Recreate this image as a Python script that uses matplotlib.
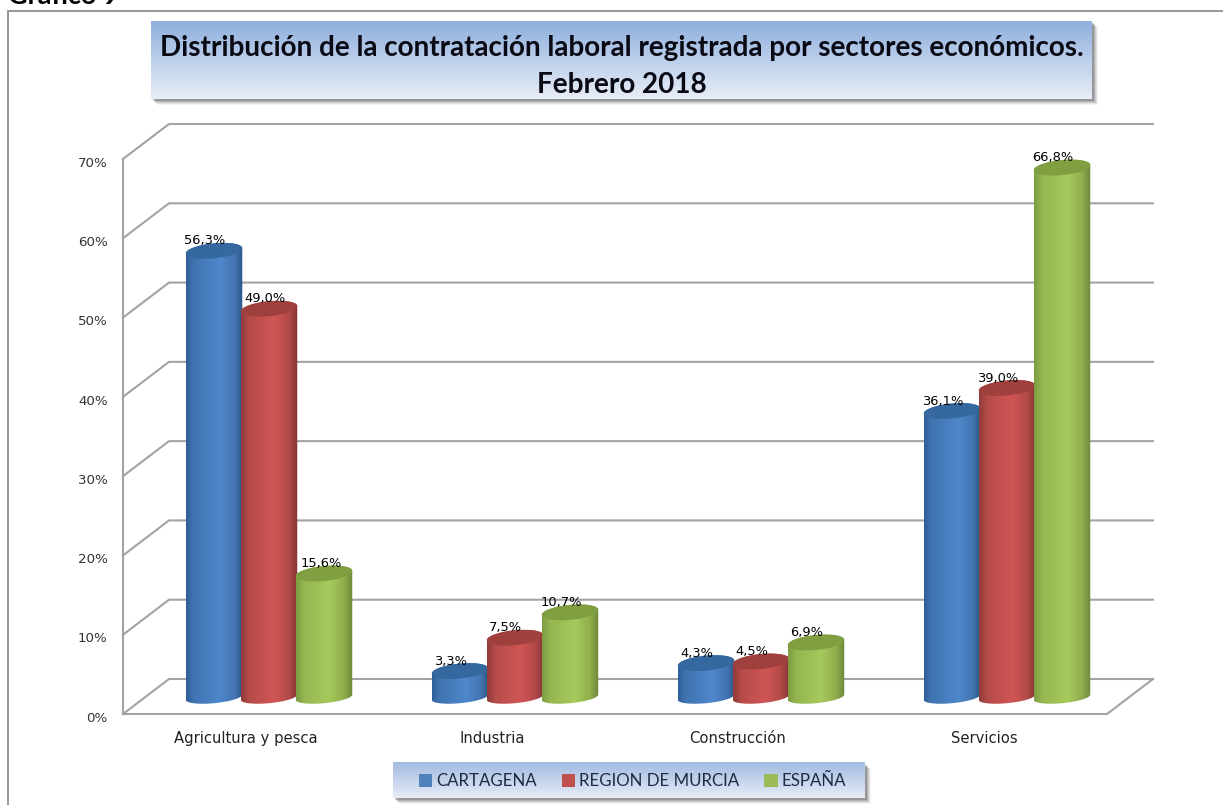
import numpy as np
import matplotlib
matplotlib.use("Agg")
import matplotlib.pyplot as plt
from matplotlib.patches import Rectangle, PathPatch, Patch
from matplotlib.path import Path
from matplotlib.transforms import ScaledTranslation

# ---- data ----
categories = ["Agricultura y pesca", "Industria", "Construcción", "Servicios"]
series_names = ["CARTAGENA", "REGION DE MURCIA", "ESPAÑA"]
cartagena = [56.3, 3.3, 4.3, 36.1]
murcia = [49.0, 7.5, 4.5, 39.0]
espana = [15.6, 10.7, 6.9, 66.8]
y_ticks = [0, 10, 20, 30, 40, 50, 60, 70]
y_tick_labels = ["0%", "10%", "20%", "30%", "40%", "50%", "60%", "70%"]
title_lines = ["Distribución de la contratación laboral registrada por sectores económicos.",
               "Febrero 2018"]
heading = "Gráfico 9"

# ---- style ----
W, H = 1223, 805
GRID = "#a3a3a3"
edge_colors = {
    0: [(0.00, "#2f5f98"), (0.12, "#3f73b0"), (0.60, "#4f88cc"), (0.86, "#4274b0"), (1.00, "#2b5787")],
    1: [(0.00, "#8f3b39"), (0.14, "#b54b49"), (0.58, "#d05656"), (0.84, "#b34a48"), (1.00, "#853735")],
    2: [(0.00, "#7d9c42"), (0.14, "#95b650"), (0.58, "#a6ca5c"), (0.84, "#90af4d"), (1.00, "#6d883b")],
}
top_colors = ["#35689f", "#a0403e", "#7f9f41"]
legend_colors = ["#4f81bd", "#c0504d", "#9bbb59"]
label_nudge_px = {(0, 1): 5, (0, 2): 6}


def rgb(h):
    return np.array(matplotlib.colors.to_rgb(h))


def gradient(stops, n=128):
    t = np.linspace(0, 1, n)
    pos = [s[0] for s in stops]
    cols = np.array([rgb(s[1]) for s in stops])
    return np.stack([np.interp(t, pos, cols[:, k]) for k in range(3)], axis=1)


fig = plt.figure(figsize=(W / 100, H / 100), dpi=100, facecolor="white")

# background layer in pixel coordinates: frame, title box, legend box
bg = fig.add_axes([0, 0, 1, 1], zorder=0)
bg.set_xlim(0, W)
bg.set_ylim(H, 0)
bg.axis("off")
bg.plot([8, 8, W], [H, 11.5, 11.5], color="#858585", lw=1.2, solid_joinstyle="miter")
bg.text(8, 3.5, heading, fontsize=19.5, fontweight="bold", family="Lato", color="black", va="baseline", ha="left")


def gradient_box(x0, y0, x1, y1, top, mid, bottom):
    for i, a in zip([6, 5, 4, 3, 2], [0.06, 0.09, 0.13, 0.18, 0.25]):
        bg.add_patch(Rectangle((x0 + i, y0 + i), x1 - x0, y1 - y0, fc="#404040", ec="none", alpha=a))
    g = gradient([(0, top), (0.5, mid), (1, bottom)])[:, None, :]
    bg.imshow(g, extent=[x0, x1, y1, y0], aspect="auto", zorder=3)
    bg.set_xlim(0, W)
    bg.set_ylim(H, 0)


gradient_box(151, 21.5, 1092, 99, "#8fafdc", "#bccfeb", "#e8edf7")
gradient_box(393, 763, 865, 798, "#a3bbe2", "#c4d3ec", "#e8edf7")
bg.text(621.5, 48, title_lines[0], fontsize=20.1, fontweight="bold", family="Lato", color="#0a0a14",
        ha="center", va="center", zorder=5)
bg.text(621.5, 85, title_lines[1], fontsize=20.1, fontweight="bold", family="Lato", color="#0a0a14",
        ha="center", va="center", zorder=5)

# chart axes: front plane of the 3-D box
ax = fig.add_axes([123 / W, (H - 714) / H, 984 / W, 555 / H], zorder=1)
ax.patch.set_alpha(0)
ax.set_xlim(-0.5, 3.5)
ax.set_ylim(0, 70)
PX_X = 4 / 984          # data units per pixel, x
PX_Y = 70 / 555         # data units per pixel, y
DX, DY = 46 * PX_X, 35 * PX_Y

for s in ["top", "right", "bottom"]:
    ax.spines[s].set_visible(False)
ax.spines["left"].set_color(GRID)
ax.spines["left"].set_linewidth(1.5)
ax.set_yticks(y_ticks)
ax.set_yticklabels(y_tick_labels, fontsize=9.6, color="#333333", family="DejaVu Sans")
ax.set_xticks(range(len(categories)))
ax.set_xticklabels(categories, fontsize=10.6, color="#222222", family="DejaVu Sans")
ax.tick_params(axis="y", length=0, pad=11)
ax.tick_params(axis="x", length=0, pad=12.5)
for lbl in ax.get_yticklabels():
    lbl.set_transform(lbl.get_transform() + ScaledTranslation(0, -2 / 72, fig.dpi_scale_trans))

# depth grid
for v in y_ticks:
    ax.plot([-0.5, -0.5 + DX, 3.5 + DX], [v, v + DY, v + DY], color=GRID, lw=1.5, clip_on=False, zorder=1)
ax.plot([-0.5, 3.5, 3.5 + DX], [0, 0, DY], color=GRID, lw=1.5, clip_on=False, zorder=1)

# cylinders
STEP = 55 * PX_X
BAR_W = 56.5 * PX_X
BASE = 0.48 * DY
RY = 7.5 * PX_Y
TILT = 2.6 * PX_Y
theta = np.linspace(0, 2 * np.pi, 120)
z = 2


def ellipse(cx, cy):
    return (cx + BAR_W / 2 * np.cos(theta),
            cy + RY * np.sin(theta) + TILT * np.cos(theta))


all_series = [cartagena, murcia, espana]
for c in range(len(categories)):
    for s, values in enumerate(all_series):
        v = values[c]
        cx = c + (s - 1) * STEP + DX / 2
        top = BASE + v
        # body outline: lower half of the base ellipse up to the top ellipse
        low = np.linspace(np.pi, 2 * np.pi, 60)
        bx = cx + BAR_W / 2 * np.cos(low)
        by = BASE + RY * 0.8 * np.sin(low) + TILT * np.cos(low)
        hi = np.linspace(0, np.pi, 60)
        tx = cx + BAR_W / 2 * np.cos(hi)
        ty = top + RY * np.sin(hi) + TILT * np.cos(hi)
        verts = np.column_stack([np.r_[bx, tx], np.r_[by, ty]])
        body = PathPatch(Path(np.vstack([verts, verts[0]]), closed=True), fc="none", ec="none",
                         transform=ax.transData)
        ax.add_patch(body)
        img = gradient(edge_colors[s])[None, :, :]
        im = ax.imshow(img, extent=[cx - BAR_W / 2, cx + BAR_W / 2, by.min(), ty.max()],
                       aspect="auto", zorder=z, interpolation="bilinear")
        im.set_clip_path(body)
        ex, ey = ellipse(cx, top)
        ax.fill(ex, ey, color=top_colors[s], lw=0, zorder=z + 0.1)
        nudge = label_nudge_px.get((c, s), 0) * 0.72
        ax.annotate(f"{v:.1f}%".replace(".", ","), (cx, top), xytext=(-6.6 + nudge, 7.1),
                    textcoords="offset points", ha="center", va="center", fontsize=9.4,
                    color="black", family="DejaVu Sans", zorder=30)
        z += 1
ax.set_xlim(-0.5, 3.5)
ax.set_ylim(0, 70)

# legend
handles = [Patch(facecolor=col, edgecolor="none", label=name) for col, name in zip(legend_colors, series_names)]
leg = ax.legend(handles=handles, ncol=3, loc="center", bbox_to_anchor=(632.5 / W, (H - 781) / H),
                bbox_transform=fig.transFigure, frameon=False,
                prop={"family": "Lato", "size": 12.2}, handlelength=0.8, handleheight=0.8,
                handletextpad=0.25, columnspacing=1.45, labelcolor="#1f2a44")

fig.savefig("out.png", dpi=100)
